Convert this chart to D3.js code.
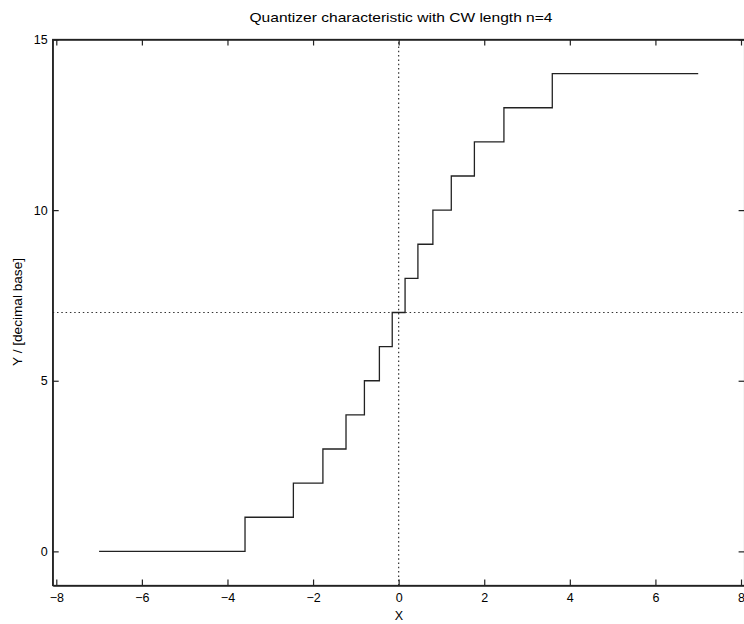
<!DOCTYPE html>
<html>
<head>
<meta charset="utf-8">
<script src="https://cdn.jsdelivr.net/npm/d3@7"></script>
<style>
  body { margin: 0; background: #fff; }
  svg { display: block; }
  text { font-family: "Liberation Sans", Arial, Helvetica, sans-serif; fill: #000; }
</style>
</head>
<body>
<svg id="chart" width="744" height="624"></svg>
<script>
// Data
const levels = [0, 1, 2, 3, 4, 5, 6, 7, 8, 9, 10, 11, 12, 13, 14];
const thresholds = [-3.59, -2.46, -1.77, -1.23, -0.8, -0.45, -0.15, 0.15, 0.45, 0.8, 1.23, 1.77, 2.46, 3.59];
const xStart = -7, xEnd = 7;
const xTicks = [-8, -6, -4, -2, 0, 2, 4, 6, 8];
const yTicks = [0, 5, 10, 15];
const midLevel = 7;
const titleText = "Quantizer characteristic with CW length n=4";
const xLabelText = "X";
const yLabelText = "Y / [decimal base]";

(function () {
const svg = d3.select("#chart");
const L = 52.7, R = 744.6, T = 39.5, B = 585.5;

const x = d3.scaleLinear().domain([-8.084, 8.084]).range([L, R]);
const y = d3.scaleLinear().domain([-1, 15]).range([B, T]);

// build step points
const edges = [xStart, ...thresholds, xEnd];
const pts = [];
levels.forEach((lv, i) => {
  pts.push([edges[i], lv]);
  pts.push([edges[i + 1], lv]);
});

const clipId = "plotclip";
svg.append("clipPath").attr("id", clipId)
  .append("rect").attr("x", L).attr("y", T).attr("width", R - L).attr("height", B - T);

const g = svg.append("g").attr("clip-path", `url(#${clipId})`);

// dotted reference lines
g.append("line")
  .attr("x1", x(-8.084)).attr("x2", x(8.084))
  .attr("y1", y(midLevel)).attr("y2", y(midLevel))
  .attr("stroke", "#333").attr("stroke-width", 1.2).attr("stroke-dasharray", "1.5,2.8");
g.append("line")
  .attr("x1", x(0)).attr("x2", x(0))
  .attr("y1", y(-1)).attr("y2", y(15))
  .attr("stroke", "#333").attr("stroke-width", 1.2).attr("stroke-dasharray", "1.5,2.8");

// step line
g.append("path")
  .datum(pts)
  .attr("d", d3.line().x(d => x(d[0])).y(d => y(d[1])))
  .attr("fill", "none").attr("stroke", "#222").attr("stroke-width", 1.3);

// axes (ticks inward, on all sides)
const tickLen = 6;
const fmt = d => d < 0 ? "\u2212" + Math.abs(d) : String(d);

const axB = svg.append("g").attr("transform", `translate(0,${B})`)
  .call(d3.axisBottom(x).tickValues(xTicks).tickSizeInner(-tickLen).tickSizeOuter(0).tickFormat(fmt));
const axT = svg.append("g").attr("transform", `translate(0,${T})`)
  .call(d3.axisTop(x).tickValues(xTicks).tickSizeInner(-tickLen).tickSizeOuter(0).tickFormat(""));
const axL = svg.append("g").attr("transform", `translate(${L},0)`)
  .call(d3.axisLeft(y).tickValues(yTicks).tickSizeInner(-tickLen).tickSizeOuter(0).tickFormat(fmt));
const axR = svg.append("g").attr("transform", `translate(${R},0)`)
  .call(d3.axisRight(y).tickValues(yTicks).tickSizeInner(-tickLen).tickSizeOuter(0).tickFormat(""));

[axB, axT, axL, axR].forEach(a => {
  a.select(".domain").attr("stroke", "#222").attr("stroke-width", 1.3);
  a.selectAll(".tick line").attr("stroke", "#222").attr("stroke-width", 1.2);
  a.selectAll("text").style("font-size", "12.5px").attr("fill", "#000")
    .style("font-family", "'Liberation Sans', Arial, sans-serif");
});
axB.selectAll(".tick text").attr("dy", "0.71em").attr("y", 8);
axL.selectAll(".tick text").attr("x", -5);

// full frame box
svg.append("rect").attr("x", L).attr("y", T).attr("width", R - L).attr("height", B - T)
  .attr("fill", "none").attr("stroke", "#222").attr("stroke-width", 1.3);

// titles
svg.append("text").attr("x", 401).attr("y", 22).attr("text-anchor", "middle")
  .attr("textLength", 303).attr("lengthAdjust", "spacingAndGlyphs")
  .style("font-size", "13px").text(titleText);
svg.append("text").attr("x", 399).attr("y", 620).attr("text-anchor", "middle")
  .style("font-size", "12.5px").text(xLabelText);
svg.append("text").attr("transform", `translate(22,${312}) rotate(-90)`).attr("text-anchor", "middle")
  .attr("textLength", 108).attr("lengthAdjust", "spacingAndGlyphs")
  .style("font-size", "13px").text(yLabelText);
})();
</script>
</body>
</html>
